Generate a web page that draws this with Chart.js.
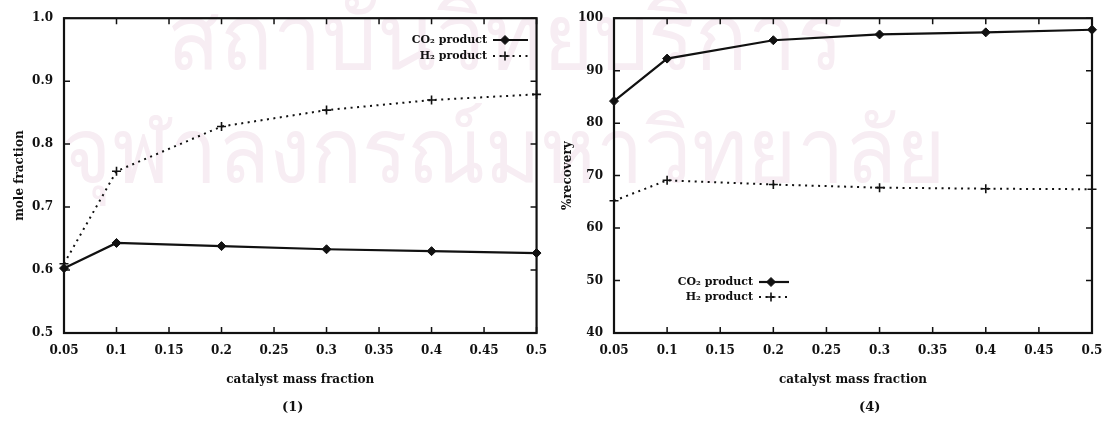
<!DOCTYPE html>
<html>
<head>
<meta charset="utf-8">
<script src="https://cdn.jsdelivr.net/npm/chart.js@4"></script>
<style>
  html, body { margin: 0; padding: 0; background: #fff; }
  #page { position: relative; width: 1116px; height: 427px; overflow: hidden; }
  .wm { position: absolute; left: 0; width: 1116px; text-align: center; color: #f7edf3;
        font-family: 'DejaVu Sans', sans-serif; line-height: 1; white-space: nowrap;
        transform-origin: center; }
  canvas { position: absolute; top: 0; }
  .caption { position: absolute; font: bold 13px 'DejaVu Serif', serif; color: #111; }
</style>
</head>
<body>
<div id="page">
  <div class="wm" style="top:-8px; font-size:92px; transform: translateX(-53px) scaleX(0.944)">สถาบันวิทยบริการ</div>
  <div class="wm" style="top:106px; font-size:90px; transform: translateX(-54px) scaleX(0.94)">จุฬาลงกรณ์มหาวิทยาลัย</div>
  <canvas id="moleChart" width="558" height="427" style="left:0"></canvas>
  <canvas id="recoveryChart" width="558" height="427" style="left:558px"></canvas>
  <div class="caption" style="left:282px; top:399px">(1)</div>
  <div class="caption" style="left:859px; top:399px">(4)</div>
</div>
<script>
const massFraction = [0.05, 0.1, 0.2, 0.3, 0.4, 0.5];
const co2MoleFraction = [0.603, 0.643, 0.638, 0.633, 0.630, 0.627];
const h2MoleFraction = [0.610, 0.757, 0.828, 0.854, 0.870, 0.879];
const co2Recovery = [84.2, 92.3, 95.8, 96.9, 97.3, 97.8];
const h2Recovery = [65.2, 69.1, 68.3, 67.7, 67.5, 67.4];

const seriesLabels = ['CO₂ product', 'H₂ product'];

const xTicks = [0.05, 0.1, 0.15, 0.2, 0.25, 0.3, 0.35, 0.4, 0.45, 0.5];
const xTickLabels = ['0.05', '0.1', '0.15', '0.2', '0.25', '0.3', '0.35', '0.4', '0.45', '0.5'];
const moleTicks = [0.5, 0.6, 0.7, 0.8, 0.9, 1.0];
const moleTickLabels = ['0.5', '0.6', '0.7', '0.8', '0.9', '1.0'];
const recoveryTicks = [40, 50, 60, 70, 80, 90, 100];
const recoveryTickLabels = ['40', '50', '60', '70', '80', '90', '100'];

const ink = '#111';
const serif = "'DejaVu Serif', serif";

// box round the plot with short inward ticks on all four sides
const frameTicks = {
    id: 'frameTicks',
    afterDatasetsDraw(chart) {
        const { ctx, chartArea: a, scales: { x, y } } = chart;
        const len = 6;
        ctx.save();
        ctx.strokeStyle = ink;
        ctx.lineWidth = 1.5;
        ctx.beginPath();
        x.ticks.forEach((t) => {
            const px = x.getPixelForValue(t.value);
            ctx.moveTo(px, a.bottom); ctx.lineTo(px, a.bottom - len);
            ctx.moveTo(px, a.top); ctx.lineTo(px, a.top + len);
        });
        y.ticks.forEach((t) => {
            const py = y.getPixelForValue(t.value);
            ctx.moveTo(a.left, py); ctx.lineTo(a.left + len, py);
            ctx.moveTo(a.right, py); ctx.lineTo(a.right - len, py);
        });
        ctx.stroke();
        ctx.lineWidth = 2.2;
        ctx.strokeRect(a.left, a.top, a.width, a.height);
        ctx.restore();
    },
};

// gnuplot-style key: label on the left, line sample on the right
const sampleKey = {
    id: 'sampleKey',
    afterDatasetsDraw(chart, args, opts) {
        const ctx = chart.ctx;
        ctx.save();
        ctx.font = 'bold 11px ' + serif;
        ctx.textAlign = 'right';
        ctx.textBaseline = 'middle';
        chart.data.datasets.forEach((ds, i) => {
            const y = opts.y + i * opts.rowGap;
            const x0 = opts.x + 6;
            ctx.fillStyle = ink;
            ctx.fillText(ds.label, opts.x, y);
            ctx.strokeStyle = ink;
            ctx.lineWidth = ds.borderWidth;
            ctx.setLineDash(ds.borderDash || []);
            ctx.beginPath();
            ctx.moveTo(x0, y);
            ctx.lineTo(x0 + opts.length, y);
            ctx.stroke();
            ctx.setLineDash([]);
            ctx.lineWidth = ds.pointBorderWidth;
            Chart.helpers.drawPoint(ctx, {
                pointStyle: ds.pointStyle,
                radius: ds.pointRadius,
                borderWidth: ds.pointBorderWidth,
                rotation: 0,
            }, x0 + 12, y);
        });
        ctx.restore();
    },
};

function makeChart(canvas, cfg) {
    return new Chart(canvas, {
        type: 'line',
        data: {
            datasets: [
                {
                    label: seriesLabels[0],
                    data: massFraction.map((x, i) => ({ x, y: cfg.co2[i] })),
                    borderColor: ink,
                    backgroundColor: ink,
                    borderWidth: 2.2,
                    pointStyle: 'rectRot',
                    pointRadius: 4.5,
                    pointBorderWidth: 1,
                    clip: false,
                },
                {
                    label: seriesLabels[1],
                    data: massFraction.map((x, i) => ({ x, y: cfg.h2[i] })),
                    borderColor: ink,
                    backgroundColor: ink,
                    borderWidth: 2,
                    borderDash: [2, 4.5],
                    pointStyle: 'cross',
                    pointRadius: 4.5,
                    pointBorderWidth: 1.6,
                    clip: false,
                },
            ],
        },
        options: {
            responsive: false,
            animation: false,
            devicePixelRatio: 1,
            layout: { padding: { left: 0, top: 17, right: cfg.rightPad, bottom: 0 } },
            plugins: {
                legend: { display: false },
                tooltip: { enabled: false },
                sampleKey: cfg.key,
            },
            scales: {
                x: {
                    type: 'linear',
                    min: 0.05,
                    max: 0.5,
                    afterBuildTicks: (s) => { s.ticks = xTicks.map((v) => ({ value: v })); },
                    afterFit: (s) => { s.height = 94; },
                    grid: { display: false, drawTicks: false },
                    border: { display: false },
                    ticks: {
                        autoSkip: false,
                        maxRotation: 0,
                        padding: 11,
                        color: ink,
                        font: { family: serif, size: 12, weight: 'bold' },
                        callback: (v, i) => xTickLabels[i],
                    },
                    title: {
                        display: true,
                        text: 'catalyst mass fraction',
                        color: ink,
                        font: { family: serif, size: 12, weight: 'bold' },
                        padding: { top: 0, bottom: 40 },
                    },
                },
                y: {
                    type: 'linear',
                    min: cfg.yTicks[0],
                    max: cfg.yTicks[cfg.yTicks.length - 1],
                    afterBuildTicks: (s) => { s.ticks = cfg.yTicks.map((v) => ({ value: v })); },
                    afterFit: (s) => { s.width = cfg.yWidth; },
                    grid: { display: false, drawTicks: false },
                    border: { display: false },
                    ticks: {
                        padding: 11,
                        color: ink,
                        font: { family: serif, size: 12, weight: 'bold' },
                        callback: (v, i) => cfg.yLabels[i],
                    },
                    title: {
                        display: true,
                        text: cfg.yTitle,
                        color: ink,
                        font: { family: serif, size: 12, weight: 'bold' },
                        padding: { top: cfg.yTitlePad, bottom: 0 },
                    },
                },
            },
        },
        plugins: [frameTicks, sampleKey],
    });
}

makeChart(document.getElementById('moleChart'), {
    co2: co2MoleFraction,
    h2: h2MoleFraction,
    yTicks: moleTicks,
    yLabels: moleTickLabels,
    yTitle: 'mole fraction',
    yWidth: 64,
    yTitlePad: 13,
    rightPad: 16,
    key: { x: 487, y: 40, rowGap: 16, length: 35 },
});

makeChart(document.getElementById('recoveryChart'), {
    co2: co2Recovery,
    h2: h2Recovery,
    yTicks: recoveryTicks,
    yLabels: recoveryTickLabels,
    yTitle: '%recovery',
    yWidth: 56,
    yTitlePad: 3,
    rightPad: 24,
    key: { x: 195, y: 282, rowGap: 15, length: 30 },
});
</script>
</body>
</html>
